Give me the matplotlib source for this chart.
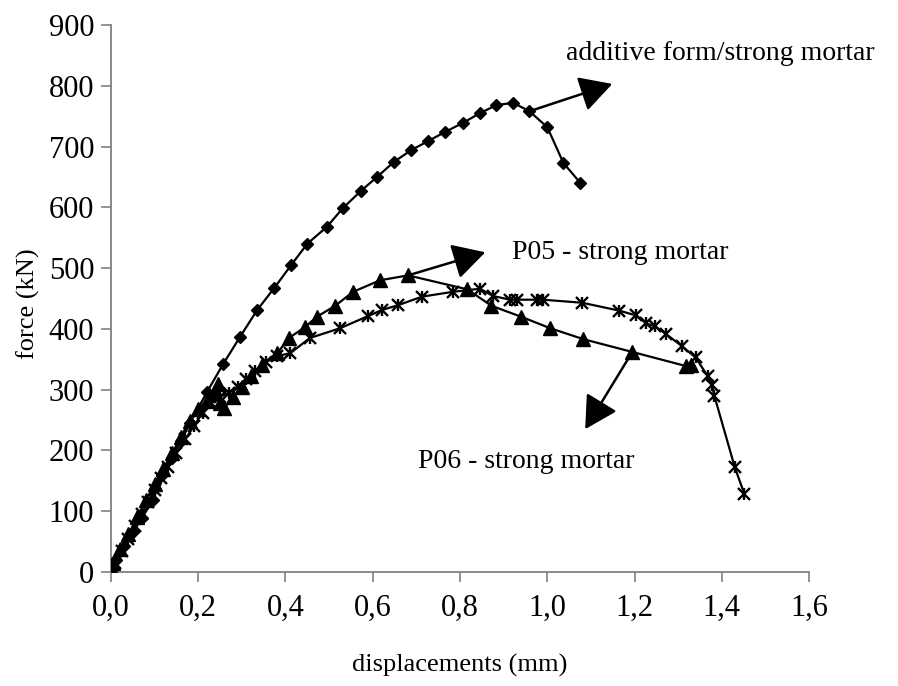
import matplotlib
matplotlib.use("Agg")
import matplotlib.pyplot as plt
from matplotlib.ticker import FuncFormatter

plt.rcParams['font.family'] = ['Liberation Serif', 'DejaVu Serif']

# additive form / strong mortar (diamonds)
add_x = [0.0, 0.012, 0.03, 0.05, 0.071, 0.096, 0.118, 0.140, 0.160, 0.181, 0.220, 0.257, 0.296,
         0.335, 0.374, 0.413, 0.450, 0.495, 0.532, 0.573, 0.610, 0.649, 0.688, 0.727, 0.766,
         0.807, 0.846, 0.883, 0.922, 0.959, 1.000, 1.037, 1.076]
add_y = [0, 20, 42, 65, 89, 118, 160, 188, 215, 245, 296, 342, 387, 431, 467, 505, 540, 568,
         599, 627, 650, 675, 694, 709, 724, 739, 755, 768, 772, 758, 732, 673, 640]

# P05 - strong mortar (triangles)
p05_x = [0.0, 0.005, 0.02, 0.04, 0.06, 0.08, 0.10, 0.12, 0.14, 0.16, 0.18, 0.20, 0.22, 0.235,
         0.245, 0.25, 0.26, 0.28, 0.30, 0.32, 0.345, 0.381, 0.408, 0.445, 0.472, 0.514, 0.555,
         0.617, 0.681, 0.817, 0.872, 0.940, 1.007, 1.083, 1.195, 1.317, 1.33]
p05_y = [0, 15, 38, 62, 90, 118, 145, 170, 195, 222, 248, 268, 282, 295, 310, 278, 270, 288,
         305, 322, 340, 360, 385, 403, 420, 438, 461, 480, 488, 465, 438, 420, 401, 383, 362,
         339, 340]

# P06 - strong mortar (stars)
p06_x = [0.0, 0.01, 0.025, 0.04, 0.055, 0.07, 0.085, 0.10, 0.115, 0.13, 0.15, 0.17, 0.19, 0.21,
         0.23, 0.25, 0.27, 0.29, 0.31, 0.33, 0.355, 0.38, 0.411, 0.456, 0.525, 0.589, 0.621,
         0.658, 0.713, 0.784, 0.846, 0.876, 0.915, 0.931, 0.977, 0.99, 1.080, 1.165, 1.204,
         1.227, 1.248, 1.273, 1.308, 1.340, 1.368, 1.378, 1.383, 1.43, 1.452]
p06_y = [0, 15, 35, 55, 75, 95, 115, 135, 155, 172, 195, 218, 240, 262, 278, 288, 295, 305,
         318, 330, 345, 355, 360, 385, 401, 421, 431, 439, 453, 461, 466, 454, 448, 448, 448,
         448, 443, 430, 422, 409, 404, 391, 372, 353, 322, 307, 290, 172, 128]

labels = ["additive form/strong mortar", "P05 - strong mortar", "P06 - strong mortar"]
label_pos = [(1.044, 853), (0.92, 526), (0.704, 181)]
arrow_tail = [(0.959, 758), (0.681, 488), (1.195, 362)]
arrow_tip = [(1.149, 803), (0.858, 526), (1.087, 235)]

x_ticks = [0.0, 0.2, 0.4, 0.6, 0.8, 1.0, 1.2, 1.4, 1.6]
y_ticks = [0, 100, 200, 300, 400, 500, 600, 700, 800, 900]

fig = plt.figure(figsize=(8.98, 6.86), dpi=100)
ax = fig.add_axes([0.1236, 0.1662, 0.7773, 0.7974])

ax.plot(add_x, add_y, color='black', lw=1.6, marker='D', ms=6.5, mfc='black', mec='black', zorder=3)
ax.plot(p05_x, p05_y, color='black', lw=1.6, marker='^', ms=9.5, mfc='black', mec='black', zorder=3)
ax.plot(p06_x, p06_y, color='black', lw=1.6, marker='x', ms=8, mew=1.7, zorder=3)
ax.plot(p06_x, p06_y, ls='none', marker='|', ms=9, mew=1.7, color='black', zorder=3)

for t, (lx, ly), tail, tip in zip(labels, label_pos, arrow_tail, arrow_tip):
    ax.text(lx, ly, t, fontsize=20, va='center', ha='left')
    ax.annotate('', xy=tip, xytext=tail,
                arrowprops=dict(arrowstyle='-|>,head_length=1.0,head_width=0.55',
                                color='black', lw=1.8, mutation_scale=20,
                                shrinkA=0, shrinkB=0))

ax.set_xlim(0, 1.6)
ax.set_ylim(0, 900)
ax.set_xticks(x_ticks)
ax.set_yticks(y_ticks)
ax.xaxis.set_major_formatter(FuncFormatter(lambda v, p: f"{v:.1f}".replace('.', ',')))
ax.yaxis.set_major_formatter(FuncFormatter(lambda v, p: f"{v:.0f}"))
ax.tick_params(axis='both', labelsize=22, color='#808080', width=1.2, length=7, direction='out')
ax.tick_params(axis='x', pad=9)
ax.tick_params(axis='y', pad=5)

for s in ['top', 'right']:
    ax.spines[s].set_visible(False)
for s in ['left', 'bottom']:
    ax.spines[s].set_color('#808080')
    ax.spines[s].set_linewidth(1.3)

ax.set_xlabel('displacements (mm)', fontsize=19, va='center')
ax.set_ylabel('force (kN)', fontsize=19, va='center')
ax.xaxis.set_label_coords(0.5, -0.170)
ax.yaxis.set_label_coords(-0.118, 0.49)

fig.savefig('out.png', dpi=100)
